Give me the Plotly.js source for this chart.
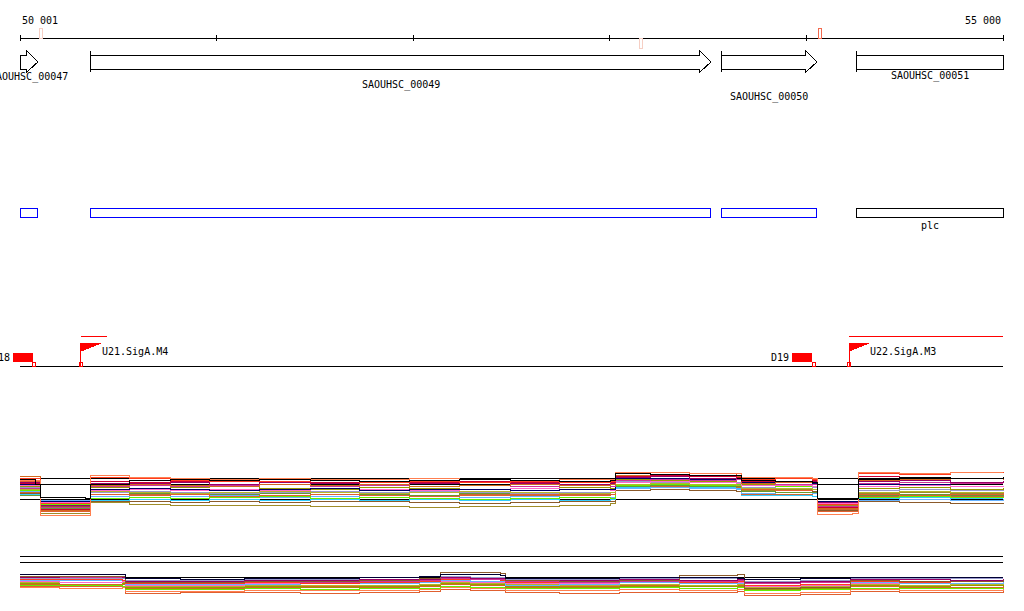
<!DOCTYPE html>
<html><head><meta charset="utf-8">
<script src="https://cdn.plot.ly/plotly-3.0.1.min.js"></script>
<style>html,body{margin:0;padding:0;background:#fff}#chart{width:1024px;height:611px}
#chart path.js-line,#chart .shapelayer path{shape-rendering:crispEdges}</style>
</head><body><div id="chart"></div>
<script>
// ---------- data ----------
const viewStart = 50001, viewEnd = 55000;
const tickPos = [50001, 51000, 52000, 53000, 54000, 55000];
const tickLabels = ['50 001', '', '', '', '', '55 000'];

const markPos = [50108, 53159, 54070];
const markStrand = ['+', '-', '+'];
const markColor = ['#f6cfc4', '#f6cfc4', '#f26a4f'];

const geneNames = ['SAOUHSC_00047', 'SAOUHSC_00049', 'SAOUHSC_00050', 'SAOUHSC_00051'];
const geneStarts = [49700, 50357, 53566, 54257];
const geneEnds = [50092, 53515, 54054, 55400];
const geneLabelY = [77, 85, 97, 76];

const featColor = ['#0000ff', '#0000ff', '#0000ff', '#000000'];
const featLabels = ['', '', '', 'plc'];

const termNames = ['D18', 'D19'];
const termPos = [50067, 54029];
const promNames = ['U21.SigA.M4', 'U22.SigA.M3'];
const promPos = [50311, 54217];
const promLineEnd = [50443, 55400];

const refLevels = [13.3, 12.1, 9.1];

// track 1 expression profiles
const pos1 = [50001,50082,50103,50332,50357,50560,50764,50967,51221,51476,51730,51984,52238,52493,52747,53006,53027,53205,53408,53647,53668,53841,54029,54059,54237,54263,54476,54731,55000];
const t1_red      = [13.4,13.4,8.4,8.4,13.6,13.4,13.0,12.8,12.8,13.0,12.6,12.8,12.6,12.8,12.6,12.8,14.4,14.2,14.4,14.0,13.2,13.4,13.2,8.2,8.2,14.4,14.2,14.6,14.4];
const t1_purple   = [12.6,12.6,8.0,8.0,12.4,12.4,12.6,12.2,12.6,12.4,12.2,12.4,12.6,12.4,12.2,12.4,13.6,13.8,13.4,13.6,12.8,12.6,12.8,8.6,8.6,12.8,13.0,12.6,12.8];
const t1_olive    = [11.8,11.8,7.6,7.6,11.6,11.4,11.6,11.8,11.4,11.2,11.6,11.4,11.2,11.4,11.6,11.4,13.2,13.0,12.8,13.2,12.2,12.0,12.2,8.4,8.4,11.4,11.6,11.2,11.4];
const t1_orange   = [13.8,13.8,7.0,7.0,12.0,12.2,12.0,11.8,12.2,12.0,12.2,11.8,12.0,12.2,12.0,12.2,14.0,14.2,13.8,13.8,12.4,12.6,12.6,7.4,7.4,13.0,13.2,13.4,13.0];
const t1_navy     = [12.2,12.2,8.8,8.8,11.2,11.4,11.2,11.0,11.2,11.4,11.0,11.2,11.2,11.0,11.2,11.2,13.4,13.4,13.2,13.2,12.6,12.6,12.4,8.8,8.8,12.2,12.2,12.4,12.4];
const t1_sky      = [10.8,10.8,9.0,9.0,9.8,9.6,9.8,10.0,9.6,9.8,9.6,9.4,9.6,9.8,9.6,9.6,11.4,11.6,11.4,11.2,10.4,10.6,10.4,8.8,8.8,9.0,9.2,9.0,9.2];
const t1_lime     = [11.0,11.0,8.2,8.2,9.4,9.6,9.4,9.6,9.8,9.4,9.6,9.4,9.2,9.4,9.6,9.4,12.0,12.2,12.0,12.2,11.6,11.8,11.6,7.8,7.8,9.6,9.8,9.6,9.4];
const t1_pink     = [12.0,12.0,8.6,8.6,11.0,11.2,11.0,11.2,11.0,11.4,11.2,11.0,11.2,11.4,11.2,11.0,12.6,12.8,12.6,12.4,12.0,12.0,11.8,8.4,8.4,11.8,12.0,11.8,11.6];
const t1_brown    = [10.4,10.4,7.8,7.8,8.8,8.8,8.6,8.8,8.6,8.8,8.8,8.6,8.4,8.6,8.8,8.8,11.0,11.2,11.0,10.8,10.8,10.6,10.8,7.0,7.0,8.8,8.6,8.4,8.2];
const t1_khakiLow = [11.4,11.4,6.4,6.4,8.6,8.2,8.0,8.0,8.0,7.8,7.8,7.6,7.8,7.8,8.0,8.4,11.8,12.0,11.8,11.6,11.0,11.2,11.2,8.0,8.0,10.4,10.6,10.4,10.6];
const t1_salmon   = [13.0,13.0,6.0,6.0,14.0,13.6,13.4,13.2,13.4,13.2,13.2,13.4,13.2,13.0,13.2,13.2,14.6,14.6,14.4,14.4,13.6,13.6,13.4,6.2,6.4,14.6,14.4,14.6,14.6];
const t1_lavender = [11.6,11.6,8.6,8.6,10.6,10.8,10.6,10.4,10.6,10.8,10.6,10.8,10.6,10.4,10.6,10.6,12.8,12.6,12.8,12.6,11.6,11.4,11.6,8.6,8.6,11.0,11.2,11.0,11.2];
const t1_crimson  = [12.4,12.4,7.2,7.2,12.8,12.6,12.8,13.0,12.8,12.6,12.8,12.6,12.8,12.6,12.8,12.6,13.8,14.0,13.8,13.6,12.8,12.8,13.0,7.6,7.6,13.8,13.6,13.4,13.6];
const t1_khaki    = [11.2,11.2,8.0,8.0,10.8,10.6,10.4,10.6,10.8,10.6,10.4,10.6,10.8,10.6,10.4,10.6,12.2,12.4,12.2,12.0,11.4,11.4,11.2,8.2,8.2,10.6,10.8,10.6,10.4];
const t1_choc     = [10.6,10.6,7.4,7.4,9.8,10.2,10.4,10.2,10.0,10.2,10.4,10.0,10.2,10.0,10.2,10.2,12.0,11.8,11.8,11.6,10.2,10.2,10.4,7.2,7.2,9.8,10.0,9.8,10.0];
const t1_cyan     = [10.2,10.2,8.8,8.8,9.0,9.2,9.0,9.2,9.0,9.2,9.0,9.2,9.0,9.2,9.0,9.2,11.6,11.8,11.6,11.4,10.0,10.0,9.8,8.6,8.6,9.4,9.6,9.4,9.4];
const t1_dkorange = [12.8,12.8,6.8,6.8,10.2,10.0,10.2,9.8,10.0,10.2,10.0,9.8,10.0,10.2,10.0,10.2,12.6,12.4,12.6,12.4,11.2,11.0,11.2,6.8,6.8,10.2,10.0,10.2,10.4];
const t1_magenta  = [11.4,11.4,7.6,7.6,11.8,12.0,11.8,12.0,12.2,11.8,12.0,11.8,12.0,11.8,12.0,11.8,13.0,13.2,13.0,13.2,12.4,12.2,12.2,7.8,7.8,12.4,12.6,12.4,12.4];
const t1_green    = [10.0,10.0,7.4,7.4,10.2,10.4,10.2,10.2,10.4,10.2,10.2,10.0,10.4,10.2,10.4,10.2,11.8,12.0,11.8,11.8,10.8,10.6,10.6,7.6,7.6,10.0,10.2,10.0,10.2];
const t1_black    = [13.2,12.2,9.6,9.4,12.2,13.0,13.2,13.0,13.2,13.0,12.8,13.0,13.2,13.0,12.8,13.0,14.4,14.2,14.0,14.0,13.0,12.8,12.6,9.4,9.4,13.2,13.6,13.4,13.6];

// track 2 expression profiles
const pos2 = [50001,50204,50520,50540,50815,51145,51425,51730,52035,52137,52290,52443,52468,52747,53052,53357,53652,53683,53968,54222,54476,54731,55000];
const t2_navy     = [9.8,9.8,9.8,9.0,8.8,9.0,9.0,9.2,9.4,9.8,9.8,9.6,9.0,9.0,9.2,9.2,9.0,8.8,9.0,9.2,9.2,9.2,9.2];
const t2_purple   = [9.2,9.4,9.2,8.4,8.4,8.6,8.6,8.8,8.8,9.2,9.0,9.0,8.6,8.6,8.8,8.6,8.8,8.2,8.4,8.8,8.8,8.6,8.8];
const t2_red      = [8.8,8.8,8.6,8.0,8.0,8.2,8.0,8.2,8.4,8.8,8.8,8.6,8.2,8.2,8.4,8.2,8.4,7.6,7.8,8.4,8.2,8.4,8.2];
const t2_olive    = [8.0,8.2,8.0,7.2,7.2,7.4,7.2,7.4,7.6,8.0,7.8,7.8,7.4,7.2,7.4,7.4,7.4,6.8,7.0,7.6,7.4,7.6,7.4];
const t2_sky      = [8.6,8.6,8.6,7.8,7.8,7.8,8.0,8.0,8.2,8.6,8.4,8.4,7.6,7.8,8.2,8.0,8.0,7.6,7.8,8.2,8.0,8.0,8.2];
const t2_lime     = [7.6,7.6,7.4,6.8,6.8,7.0,6.8,7.0,7.0,7.4,7.2,7.2,7.0,7.0,7.2,7.0,7.2,6.6,6.8,7.0,7.0,7.0,7.2];
const t2_pink     = [8.4,8.2,8.4,7.6,7.6,8.0,8.0,8.0,8.2,8.4,8.2,8.2,8.0,8.0,8.2,8.0,8.2,7.4,7.6,8.0,8.2,8.0,8.0];
const t2_salmon   = [7.2,7.0,7.2,6.4,6.4,6.6,6.6,6.6,6.8,7.2,7.0,7.0,6.6,6.6,6.8,6.6,6.8,6.0,6.2,6.8,6.6,6.6,6.8];
const t2_brown    = [9.4,9.4,9.4,8.2,8.2,8.4,8.4,8.6,9.0,10.2,10.2,10.0,8.6,8.4,8.6,9.6,9.8,7.0,7.2,8.6,8.4,8.4,8.6];
const t2_lavender = [9.0,9.0,9.0,8.6,8.6,8.8,8.8,8.8,9.0,9.4,9.2,9.2,8.8,8.8,9.0,9.0,9.0,8.4,8.6,9.0,9.0,9.0,9.0];
const t2_orange   = [7.8,7.8,7.8,7.0,7.0,7.2,7.4,7.2,7.4,7.8,7.6,7.6,7.2,7.4,7.6,7.4,7.6,6.8,7.0,7.4,7.2,7.2,7.4];
const t2_khaki    = [8.2,8.2,8.2,7.4,7.4,7.6,7.6,7.6,7.8,8.2,8.0,8.0,7.8,7.6,7.8,7.6,7.8,7.2,7.4,7.8,7.6,7.8,7.6];
const t2_magenta  = [9.0,9.2,9.0,8.2,8.2,8.4,8.2,8.4,8.6,9.0,8.8,8.8,8.4,8.2,8.4,8.4,8.6,8.0,8.2,8.6,8.4,8.4,8.6];
const t2_dkorange = [7.4,7.4,7.4,6.0,6.2,6.2,6.0,6.2,6.4,6.8,6.6,6.6,6.2,6.0,6.2,6.2,6.4,5.6,5.8,6.4,6.2,6.2,6.4];

// ---------- build ----------
const W = 1024, H = 611;
const pxPerBp = (1003 - 20) / (viewEnd - viewStart);
const X0 = viewStart - 20 / pxPerBp;
const X1 = X0 + W / pxPerBp;
const bpw = px => px / pxPerBp;
const FONT = {family: 'DejaVu Sans Mono, monospace', size: 10, color: '#000'};

const shapes = [], annotations = [], traces = [];
const clip = v => Math.max(viewStart, Math.min(viewEnd, v));

// ruler
shapes.push({type: 'line', xref: 'x', yref: 'y', x0: viewStart, x1: viewEnd, y0: 38, y1: 38, line: {color: '#000', width: 1}});
tickPos.forEach((p, i) => {
  shapes.push({type: 'line', xref: 'x', yref: 'y', x0: p, x1: p, y0: 35, y1: 41, line: {color: '#000', width: 1}});
  if (tickLabels[i]) annotations.push({x: p, y: 20, xref: 'x', yref: 'y', text: tickLabels[i], showarrow: false,
    xanchor: i === 0 ? 'left' : 'right', yanchor: 'middle', font: FONT});
});
markPos.forEach((p, i) => {
  const up = markStrand[i] === '+';
  shapes.push({type: 'rect', xref: 'x', yref: 'y', x0: p - bpw(1.5), x1: p + bpw(1.5), y0: up ? 28 : 38, y1: up ? 38 : 48,
    line: {color: markColor[i], width: 1}, fillcolor: 'rgba(0,0,0,0)'});
});

// genes
geneNames.forEach((n, i) => {
  const s = clip(geneStarts[i]), e = clip(geneEnds[i]);
  const h = bpw(11);
  let path;
  if (geneEnds[i] <= viewEnd) {
    path = `M ${s},55 L ${e - h},55 L ${e - h},51 L ${e},62 L ${e - h},72 L ${e - h},69 L ${s},69 Z`;
  } else {
    path = `M ${s},55 L ${e},55 L ${e},69 L ${s},69 Z`;
  }
  shapes.push({type: 'path', xref: 'x', yref: 'y', path: path, line: {color: '#000', width: 1}, fillcolor: '#fff'});
  if (geneStarts[i] >= viewStart) {
    shapes.push({type: 'line', xref: 'x', yref: 'y', x0: s, x1: s, y0: 51, y1: 72, line: {color: '#000', width: 1}});
  }
  annotations.push({x: (s + e) / 2, y: geneLabelY[i], xref: 'x', yref: 'y', text: n, showarrow: false,
    xanchor: 'center', yanchor: 'middle', font: FONT});
  shapes.push({type: 'rect', xref: 'x', yref: 'y', x0: s, x1: e, y0: 208, y1: 217,
    line: {color: featColor[i], width: 1}, fillcolor: 'rgba(0,0,0,0)'});
  if (featLabels[i]) annotations.push({x: (s + e) / 2, y: 225, xref: 'x', yref: 'y', text: featLabels[i], showarrow: false,
    xanchor: 'center', yanchor: 'middle', font: FONT});
});

// regulatory track
shapes.push({type: 'line', xref: 'x', yref: 'y', x0: viewStart, x1: viewEnd, y0: 366, y1: 366, line: {color: '#000', width: 1}});
termNames.forEach((n, i) => {
  const p = termPos[i];
  shapes.push({type: 'rect', xref: 'x', yref: 'y', x0: p - bpw(20), x1: p, y0: 353, y1: 362, line: {color: '#ff0000', width: 0}, fillcolor: '#ff0000'});
  shapes.push({type: 'rect', xref: 'x', yref: 'y', x0: p, x1: p + bpw(3), y0: 362, y1: 366, line: {color: '#ff0000', width: 1}, fillcolor: 'rgba(0,0,0,0)'});
  annotations.push({x: p - bpw(21), y: 357, xref: 'x', yref: 'y', text: n, showarrow: false,
    xanchor: 'right', yanchor: 'middle', font: FONT});
});
promNames.forEach((n, i) => {
  const p = promPos[i];
  shapes.push({type: 'line', xref: 'x', yref: 'y', x0: p, x1: clip(promLineEnd[i]), y0: 336, y1: 336, line: {color: '#ff0000', width: 1}});
  shapes.push({type: 'line', xref: 'x', yref: 'y', x0: p, x1: p, y0: 343, y1: 366, line: {color: '#ff0000', width: 1}});
  shapes.push({type: 'path', xref: 'x', yref: 'y', path: `M ${p},343 L ${p + bpw(20)},343 L ${p},351 Z`, line: {color: '#ff0000', width: 1}, fillcolor: '#ff0000'});
  shapes.push({type: 'rect', xref: 'x', yref: 'y', x0: p - bpw(1.5), x1: p + bpw(1.5), y0: 362, y1: 366, line: {color: '#ff0000', width: 1}, fillcolor: 'rgba(0,0,0,0)'});
  annotations.push({x: p + bpw(19), y: 351, xref: 'x', yref: 'y', text: n, showarrow: false,
    xanchor: 'left', yanchor: 'middle', font: FONT});
});

// expression reference lines
['y2', 'y3'].forEach(yr => refLevels.forEach(v => {
  shapes.push({type: 'line', xref: 'x', yref: yr, x0: viewStart, x1: viewEnd, y0: v, y1: v, line: {color: '#000', width: 1}, layer: 'below'});
}));

const series1 = [
  [t1_khakiLow, '#a08c28'], [t1_brown, '#8b5a2b'], [t1_cyan, '#33ccff'], [t1_choc, '#cc6633'],
  [t1_sky, '#66b2ff'], [t1_lime, '#66ee00'], [t1_green, '#669933'], [t1_dkorange, '#e06030'],
  [t1_lavender, '#9999cc'], [t1_khaki, '#b5b52a'], [t1_olive, '#999900'], [t1_pink, '#ff66cc'],
  [t1_navy, '#000066'], [t1_magenta, '#cc3399'], [t1_purple, '#990066'], [t1_orange, '#d2691e'],
  [t1_crimson, '#cc0033'], [t1_red, '#ff3b1f'], [t1_salmon, '#ff7f50'], [t1_black, '#000000']
];
const series2 = [
  [t2_dkorange, '#e06030'], [t2_salmon, '#ff7f50'], [t2_lime, '#66ee00'], [t2_orange, '#d2691e'],
  [t2_olive, '#999900'], [t2_khaki, '#b5b52a'], [t2_pink, '#ff66cc'], [t2_sky, '#66b2ff'],
  [t2_red, '#ff3b1f'], [t2_magenta, '#cc3399'], [t2_lavender, '#9999cc'], [t2_purple, '#990066'],
  [t2_brown, '#8b5a2b'], [t2_navy, '#000033']
];
series1.forEach(([v, c]) => traces.push({x: pos1, y: v, yaxis: 'y2', type: 'scatter', mode: 'lines', line: {color: c, width: 1, shape: 'hv'}, hoverinfo: 'skip', showlegend: false}));
series2.forEach(([v, c]) => traces.push({x: pos2, y: v, yaxis: 'y3', type: 'scatter', mode: 'lines', line: {color: c, width: 1, shape: 'hv'}, hoverinfo: 'skip', showlegend: false}));

const dom = (top, bot) => [1 - bot / H, 1 - top / H];
const layout = {
  width: W, height: H, margin: {l: 0, r: 0, t: 0, b: 0},
  paper_bgcolor: '#fff', plot_bgcolor: 'rgba(0,0,0,0)', showlegend: false,
  xaxis: {range: [X0, X1], visible: false, fixedrange: true},
  yaxis: {range: [H, 0], domain: [0, 1], visible: false, fixedrange: true},
  yaxis2: {range: [4, 16], domain: dom(465, 525), visible: false, anchor: 'x', fixedrange: true},
  yaxis3: {range: [4, 16], domain: dom(543, 603), visible: false, anchor: 'x', fixedrange: true},
  shapes: shapes, annotations: annotations
};
Plotly.newPlot('chart', traces, layout, {staticPlot: true, displayModeBar: false});
</script>
</body></html>
